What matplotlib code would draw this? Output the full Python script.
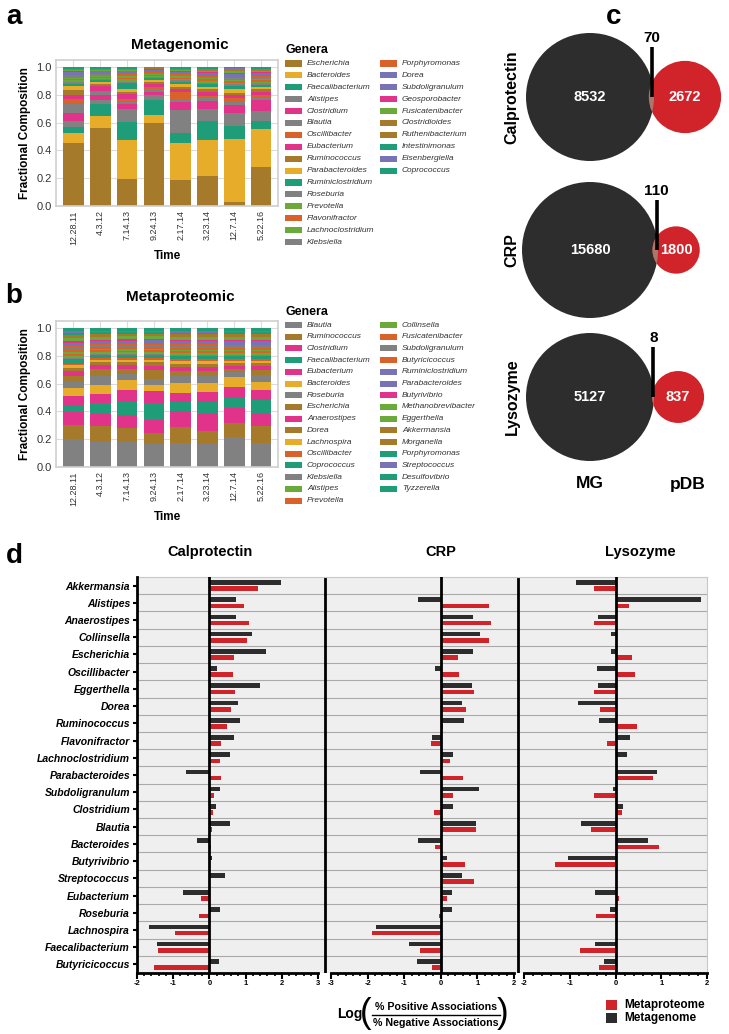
import numpy as np
import matplotlib.pyplot as plt
from matplotlib.patches import Rectangle, Circle
from matplotlib.lines import Line2D
from matplotlib.ticker import MultipleLocator

plt.rcParams['font.family'] = ['Liberation Sans', 'DejaVu Sans']
plt.rcParams['axes.unicode_minus'] = False

# ---------------- data: panel a (metagenomic fractional composition) ----------------
times = ["12.28.11", "4.3.12", "7.14.13", "9.24.13", "2.17.14", "3.23.14", "12.7.14", "5.22.16"]

mg_genera = ["Escherichia", "Bacteroides", "Faecalibacterium", "Alistipes", "Clostridium", "Blautia",
             "Oscillibacter", "Eubacterium", "Ruminococcus", "Parabacteroides", "Ruminiclostridium",
             "Roseburia", "Prevotella", "Flavonifractor", "Lachnoclostridium", "Klebsiella",
             "Porphyromonas", "Dorea", "Subdoligranulum", "Geosporobacter", "Fusicatenibacter",
             "Clostridioides", "Ruthenibacterium", "Intestinimonas", "Eisenbergiella", "Coprococcus"]

mg_12_28_11 = [0.453, 0.070, 0.043, 0.048, 0.056, 0.065, 0.036, 0.024, 0.041, 0.024, 0.020, 0.014, 0.010,
               0.012, 0.008, 0.010, 0.008, 0.010, 0.010, 0.008, 0.006, 0.006, 0.006, 0.004, 0.004, 0.004]
mg_4_3_12 = [0.559, 0.087, 0.084, 0.034, 0.031, 0.025, 0.010, 0.030, 0.020, 0.010, 0.014, 0.010, 0.008,
             0.008, 0.008, 0.008, 0.006, 0.008, 0.008, 0.006, 0.006, 0.004, 0.004, 0.004, 0.004, 0.004]
mg_7_14_13 = [0.193, 0.282, 0.127, 0.097, 0.031, 0.015, 0.025, 0.037, 0.015, 0.020, 0.040, 0.012, 0.020,
              0.010, 0.010, 0.010, 0.008, 0.008, 0.008, 0.006, 0.006, 0.004, 0.004, 0.004, 0.004, 0.004]
mg_9_24_13 = [0.595, 0.060, 0.109, 0.031, 0.024, 0.020, 0.015, 0.025, 0.015, 0.015, 0.010, 0.010, 0.006,
              0.006, 0.006, 0.008, 0.006, 0.008, 0.008, 0.005, 0.004, 0.004, 0.003, 0.003, 0.002, 0.002]
mg_2_17_14 = [0.186, 0.265, 0.072, 0.169, 0.055, 0.024, 0.048, 0.020, 0.020, 0.020, 0.015, 0.012, 0.008,
              0.010, 0.008, 0.008, 0.008, 0.008, 0.008, 0.006, 0.006, 0.006, 0.004, 0.004, 0.004, 0.006]
mg_3_23_14 = [0.217, 0.258, 0.139, 0.085, 0.055, 0.020, 0.020, 0.025, 0.020, 0.015, 0.020, 0.014, 0.010,
              0.012, 0.010, 0.010, 0.008, 0.010, 0.010, 0.008, 0.008, 0.006, 0.006, 0.004, 0.004, 0.006]
mg_12_7_14 = [0.029, 0.453, 0.091, 0.097, 0.055, 0.020, 0.030, 0.020, 0.020, 0.025, 0.020, 0.014, 0.012,
              0.012, 0.010, 0.010, 0.010, 0.012, 0.010, 0.010, 0.008, 0.008, 0.006, 0.006, 0.006, 0.006]
mg_5_22_16 = [0.284, 0.270, 0.060, 0.066, 0.080, 0.018, 0.022, 0.020, 0.020, 0.015, 0.015, 0.014, 0.010,
              0.012, 0.010, 0.010, 0.008, 0.012, 0.010, 0.010, 0.008, 0.008, 0.006, 0.004, 0.004, 0.004]

# ---------------- data: panel b (metaproteomic fractional composition) ----------------
mp_genera = ["Blautia", "Ruminococcus", "Clostridium", "Faecalibacterium", "Eubacterium", "Bacteroides",
             "Roseburia", "Escherichia", "Anaerostipes", "Dorea", "Lachnospira", "Oscillibacter",
             "Coprococcus", "Klebsiella", "Alistipes", "Prevotella", "Collinsella", "Fusicatenibacter",
             "Subdoligranulum", "Butyricicoccus", "Ruminiclostridium", "Parabacteroides", "Butyrivibrio",
             "Methanobrevibacter", "Eggerthella", "Akkermansia", "Morganella", "Porphyromonas",
             "Streptococcus", "Desulfovibrio", "Tyzzerella"]

mp_12_28_11 = [0.198, 0.103, 0.097, 0.041, 0.072, 0.055, 0.048, 0.041, 0.037, 0.022, 0.018, 0.012, 0.030, 0.012,
               0.014, 0.012, 0.014, 0.014, 0.014, 0.014, 0.012, 0.012, 0.012, 0.012, 0.012, 0.012, 0.012, 0.012,
               0.012, 0.010, 0.014]
mp_4_3_12 = [0.181, 0.115, 0.085, 0.077, 0.067, 0.065, 0.065, 0.049, 0.030, 0.020, 0.016, 0.012, 0.020, 0.012,
             0.012, 0.012, 0.012, 0.012, 0.012, 0.012, 0.010, 0.010, 0.010, 0.010, 0.010, 0.012, 0.010, 0.010,
             0.010, 0.010, 0.012]
mp_7_14_13 = [0.181, 0.101, 0.091, 0.104, 0.077, 0.073, 0.043, 0.034, 0.030, 0.020, 0.016, 0.012, 0.020, 0.012,
              0.012, 0.010, 0.012, 0.012, 0.012, 0.012, 0.012, 0.012, 0.012, 0.010, 0.010, 0.010, 0.010, 0.010,
              0.010, 0.010, 0.010]
mp_9_24_13 = [0.164, 0.084, 0.089, 0.126, 0.084, 0.043, 0.041, 0.068, 0.030, 0.025, 0.016, 0.014, 0.020, 0.012,
              0.012, 0.012, 0.012, 0.012, 0.012, 0.012, 0.012, 0.010, 0.010, 0.010, 0.010, 0.010, 0.010, 0.010,
              0.010, 0.010, 0.010]
mp_2_17_14 = [0.176, 0.113, 0.113, 0.063, 0.070, 0.072, 0.044, 0.036, 0.031, 0.025, 0.018, 0.014, 0.022, 0.012,
              0.012, 0.012, 0.012, 0.012, 0.012, 0.012, 0.012, 0.012, 0.010, 0.010, 0.010, 0.010, 0.010, 0.010,
              0.010, 0.010, 0.015]
mp_3_23_14 = [0.164, 0.096, 0.118, 0.087, 0.077, 0.060, 0.049, 0.036, 0.031, 0.025, 0.018, 0.014, 0.022, 0.012,
              0.012, 0.012, 0.012, 0.012, 0.012, 0.012, 0.012, 0.012, 0.010, 0.010, 0.010, 0.010, 0.010, 0.010,
              0.010, 0.010, 0.015]
mp_12_7_14 = [0.217, 0.096, 0.109, 0.079, 0.077, 0.068, 0.034, 0.024, 0.024, 0.020, 0.016, 0.012, 0.020, 0.012,
              0.012, 0.012, 0.012, 0.012, 0.012, 0.012, 0.012, 0.012, 0.012, 0.012, 0.010, 0.010, 0.010, 0.010,
              0.010, 0.010, 0.012]
mp_5_22_16 = [0.173, 0.121, 0.087, 0.101, 0.072, 0.060, 0.049, 0.036, 0.025, 0.022, 0.016, 0.014, 0.020, 0.012,
              0.012, 0.012, 0.012, 0.012, 0.012, 0.012, 0.012, 0.012, 0.012, 0.012, 0.010, 0.010, 0.010, 0.010,
              0.010, 0.010, 0.012]

# ---------------- data: panel c (venn counts) ----------------
venn_names = ["Calprotectin", "CRP", "Lysozyme"]
venn_mg_only = [8532, 15680, 5127]
venn_pdb_only = [2672, 1800, 837]
venn_shared = [70, 110, 8]

# ---------------- data: panel d (log ratio of associations) ----------------
d_genera = ["Akkermansia", "Alistipes", "Anaerostipes", "Collinsella", "Escherichia", "Oscillibacter",
            "Eggerthella", "Dorea", "Ruminococcus", "Flavonifractor", "Lachnoclostridium", "Parabacteroides",
            "Subdoligranulum", "Clostridium", "Blautia", "Bacteroides", "Butyrivibrio", "Streptococcus",
            "Eubacterium", "Roseburia", "Lachnospira", "Faecalibacterium", "Butyricicoccus"]
calpro_mg = [1.97, 0.74, 0.74, 1.17, 1.55, 0.20, 1.39, 0.78, 0.85, 0.67, 0.58, -0.64, 0.29, 0.18, 0.58, -0.34,
             0.07, 0.42, -0.72, 0.29, -1.68, -1.46, 0.26]
calpro_mp = [1.33, 0.96, 1.09, 1.04, 0.67, 0.65, 0.71, 0.59, 0.49, 0.31, 0.28, 0.31, 0.14, 0.09, 0.06, 0.05,
             0.0, 0.0, -0.22, -0.29, -0.94, -1.41, -1.52]
crp_mg = [0.0, -0.61, 0.87, 1.08, 0.87, -0.17, 0.85, 0.58, 0.64, -0.25, 0.32, -0.57, 1.05, 0.34, 0.97, -0.61,
          0.17, 0.57, 0.30, 0.31, -1.76, -0.87, -0.64]
crp_mp = [0.0, 1.31, 1.38, 1.31, 0.46, 0.51, 0.91, 0.69, 0.06, -0.27, 0.25, 0.62, 0.32, -0.19, 0.95, -0.15,
          0.66, 0.91, 0.18, -0.06, -1.89, -0.57, -0.25]
lyso_mg = [-0.87, 1.87, -0.39, -0.10, -0.10, -0.41, -0.39, -0.81, -0.37, 0.31, 0.25, 0.90, -0.05, 0.16, -0.76,
           0.71, -1.03, 0.0, -0.45, -0.12, 0.0, -0.44, -0.25]
lyso_mp = [-0.48, 0.30, -0.48, 0.0, 0.37, 0.42, -0.48, -0.33, 0.47, -0.18, 0.0, 0.82, -0.48, 0.15, -0.54, 0.95,
           -1.32, 0.0, 0.07, -0.43, 0.0, -0.78, -0.36]

# ---------------- styling ----------------
BROWN, YELLOW, TEAL, GREY = "#a67a2b", "#e6ac2a", "#1f9c78", "#818181"
PINK, ORANGE, LGREEN, PURPLE = "#e2338a", "#d9622b", "#6aa93a", "#7873b4"
mg_colors = [BROWN, YELLOW, TEAL, GREY, PINK, GREY, ORANGE, PINK, BROWN, YELLOW, TEAL, GREY, LGREEN,
             ORANGE, LGREEN, GREY, ORANGE, PURPLE, PURPLE, PINK, LGREEN, BROWN, BROWN, TEAL, PURPLE, TEAL]
mp_colors = [GREY, BROWN, PINK, TEAL, PINK, YELLOW, GREY, BROWN, PINK, BROWN, YELLOW, ORANGE, TEAL, GREY,
             LGREEN, ORANGE, LGREEN, ORANGE, GREY, ORANGE, PURPLE, PURPLE, PINK, LGREEN, LGREEN, BROWN,
             BROWN, TEAL, PURPLE, TEAL, TEAL]
RED, DARK = "#d1232a", "#2d2d2d"

W, H = 729, 1034
fig = plt.figure(figsize=(W / 100, H / 100), dpi=100)


def box(l, t, r, b):
    return [l / W, 1 - b / H, (r - l) / W, (b - t) / H]


def fx(x):
    return x / W


def fy(y):
    return 1 - y / H


def stacked_panel(rect, samples, colors, title, title_y):
    ax = fig.add_axes(rect)
    x = np.arange(len(times))
    bottoms = np.zeros(len(times))
    for g in range(len(colors)):
        vals = np.array([s[g] for s in samples])
        ax.bar(x, vals, bottom=bottoms, width=0.77, color=colors[g], edgecolor="none", zorder=2)
        bottoms += vals
    ax.set_xlim(-0.65, len(times) - 0.37)
    ax.set_ylim(0, 1.05)
    ax.set_yticks([0, 0.2, 0.4, 0.6, 0.8, 1.0])
    ax.set_yticklabels(["0.0", "0.2", "0.4", "0.6", "0.8", "1.0"], fontsize=8, color="#333333")
    ax.set_xticks(x)
    ax.set_xticklabels(times, rotation=90, fontsize=6.5, color="#333333")
    ax.tick_params(length=0, pad=3)
    ax.grid(True, color="#dcdcdc", lw=0.8, zorder=0)
    for sp in ax.spines.values():
        sp.set_color("#cfcfcf")
        sp.set_linewidth(1.2)
    ax.set_ylabel("Fractional Composition", fontweight="bold", fontsize=8.5, labelpad=4)
    ax.set_xlabel("Time", fontweight="bold", fontsize=8.5, labelpad=4)
    fig.text(fx(180), fy(title_y), title, fontweight="bold", fontsize=11, ha="center", va="center")
    return ax


def genera_legend(names, colors, n_first, title_y, first_y, step):
    fig.text(fx(285), fy(title_y), "Genera", fontweight="bold", fontsize=9, ha="left", va="center")
    for i, (name, c) in enumerate(zip(names, colors)):
        col, row = (0, i) if i < n_first else (1, i - n_first)
        x0 = 285 if col == 0 else 380
        y = first_y + row * step
        fig.add_artist(Rectangle((fx(x0), fy(y + 3)), 17 / W, 6 / H, transform=fig.transFigure,
                                 facecolor=c, edgecolor="none"))
        fig.text(fx(x0 + 22), fy(y), name, fontstyle="italic", fontsize=6, color="#333333",
                 ha="left", va="center")


# ---------------- panel a ----------------
mg_samples = [mg_12_28_11, mg_4_3_12, mg_7_14_13, mg_9_24_13, mg_2_17_14, mg_3_23_14, mg_12_7_14, mg_5_22_16]
stacked_panel(box(56, 60, 278, 206), mg_samples, mg_colors, "Metagenomic", 45)
genera_legend(mg_genera, mg_colors, 16, 50, 63.5, 11.9)

# ---------------- panel b ----------------
mp_samples = [mp_12_28_11, mp_4_3_12, mp_7_14_13, mp_9_24_13, mp_2_17_14, mp_3_23_14, mp_12_7_14, mp_5_22_16]
stacked_panel(box(56, 321, 278, 467), mp_samples, mp_colors, "Metaproteomic", 297)
genera_legend(mp_genera, mp_colors, 16, 312, 325, 11.7)

# ---------------- panel c ----------------
axc = fig.add_axes(box(500, 0, 729, 560))
axc.set_xlim(500, 729)
axc.set_ylim(560, 0)
axc.axis("off")


def lens_area(R, r, d):
    if d >= R + r:
        return 0.0
    a1 = R * R * np.arccos((d * d + R * R - r * r) / (2 * d * R))
    a2 = r * r * np.arccos((d * d + r * r - R * R) / (2 * d * r))
    a3 = 0.5 * np.sqrt((-d + R + r) * (d + R - r) * (d - R + r) * (d + R + r))
    return a1 + a2 - a3


venn_cy = [97, 250, 397]
venn_R = [64, 68, 64]
mg_cx = 590
for name, mg, pdb, sh, cy, R in zip(venn_names, venn_mg_only, venn_pdb_only, venn_shared, venn_cy, venn_R):
    r = R * np.sqrt((pdb + sh) / (mg + sh))
    target = np.pi * R * R * sh / (mg + sh)
    lo, hi = R - r + 1e-6, R + r
    for _ in range(60):
        mid = 0.5 * (lo + hi)
        if lens_area(R, r, mid) > target:
            lo = mid
        else:
            hi = mid
    d = 0.5 * (lo + hi)
    big = Circle((mg_cx, cy), R, facecolor=DARK, edgecolor="none")
    small = Circle((mg_cx + d, cy), r, facecolor=RED, edgecolor="none")
    axc.add_patch(big)
    axc.add_patch(small)
    lens = Circle((mg_cx + d, cy), r, facecolor="#a9786a", edgecolor="none")
    axc.add_patch(lens)
    lens.set_clip_path(big)
    xc = mg_cx + (d * d + R * R - r * r) / (2 * d)
    axc.add_line(Line2D([xc, xc], [cy, cy - 50], color="black", lw=2.6, solid_capstyle="butt"))
    axc.text(xc, cy - 59, f"{sh}", fontweight="bold", fontsize=11, ha="center", va="center")
    axc.text(mg_cx, cy, f"{mg}", color="white", fontweight="bold", fontsize=10.5, ha="center", va="center")
    axc.text(mg_cx + d, cy, f"{pdb}", color="white", fontweight="bold", fontsize=10.5, ha="center",
             va="center")
    axc.text(512, cy, name, rotation=90, fontweight="bold", fontsize=11.5, ha="center", va="center")
axc.text(mg_cx, 484, "MG", fontweight="bold", fontsize=12.5, ha="center", va="center")
axc.text(688, 484, "pDB", fontweight="bold", fontsize=12.5, ha="center", va="center")

# ---------------- panel d ----------------
top, bot = 577, 973
n = len(d_genera)
rows = np.arange(n)
bg = fig.add_axes(box(137, top, 707, bot))
bg.set_facecolor("#efefef")
bg.set_xlim(137, 707)
bg.set_ylim(n - 0.5, -0.5)
bg.set_xticks([])
bg.set_yticks([])
for k in range(n - 1):
    bg.axhline(k + 0.5, color="#a9a9a9", lw=0.8)
for xdiv in (325, 518):
    bg.axvline(xdiv, color="black", lw=2)
for side in ("left", "bottom"):
    bg.spines[side].set_visible(False)
for side in ("top", "right"):
    bg.spines[side].set_color("#c8c8c8")

d_specs = [
    (137, 318, (-2, 3), calpro_mg, calpro_mp, "Calprotectin", 210),
    (331, 514, (-3, 2), crp_mg, crp_mp, "CRP", 441),
    (524, 707, (-2, 2), lyso_mg, lyso_mp, "Lysozyme", 640),
]
for i, (l, r_, lim, mgv, mpv, title, tx) in enumerate(d_specs):
    ax = fig.add_axes(box(l, top, r_, bot))
    ax.patch.set_alpha(0)
    ax.barh(rows - 0.18, mgv, height=0.27, color=DARK, zorder=3)
    ax.barh(rows + 0.18, mpv, height=0.27, color=RED, zorder=3)
    ax.axvline(0, color="black", lw=2, zorder=4)
    ax.set_xlim(*lim)
    ax.set_ylim(n - 0.5, -0.5)
    ax.xaxis.set_major_locator(MultipleLocator(1))
    ax.xaxis.set_minor_locator(MultipleLocator(0.2))
    ax.tick_params(axis="x", which="major", length=4, width=1.5, pad=1, labelsize=5.5)
    ax.tick_params(axis="x", which="minor", length=2.5, width=1.2)
    for lab in ax.get_xticklabels():
        lab.set_fontweight("bold")
    ax.spines["top"].set_visible(False)
    ax.spines["right"].set_visible(False)
    ax.spines["bottom"].set_linewidth(2)
    if i == 0:
        ax.spines["left"].set_linewidth(2)
        ax.set_yticks(rows)
        ax.set_yticklabels(d_genera, fontstyle="italic", fontweight="bold", fontsize=7.5)
        ax.tick_params(axis="y", length=3, width=1.5, pad=2)
    else:
        ax.spines["left"].set_visible(False)
        ax.set_yticks([])
    fig.text(fx(tx), fy(552), title, fontweight="bold", fontsize=10.5, ha="center", va="center")

# x label built from pieces: Log( fraction )
fig.text(fx(350), fy(1014), "Log", fontweight="bold", fontsize=10, ha="center", va="center")
fig.text(fx(366), fy(1013), "(", fontsize=25, ha="center", va="center")
fig.text(fx(503), fy(1013), ")", fontsize=25, ha="center", va="center")
fig.text(fx(436), fy(1007), "% Positive Associations", fontweight="bold", fontsize=7.7, ha="center",
         va="center")
fig.text(fx(436), fy(1023), "% Negative Associations", fontweight="bold", fontsize=7.7, ha="center",
         va="center")
fig.add_artist(Line2D([fx(372), fx(500)], [fy(1015), fy(1015)], transform=fig.transFigure, color="black",
                      lw=1))

# legend for panel d
for lab, c, y in (("Metaproteome", RED, 1005), ("Metagenome", DARK, 1018)):
    fig.add_artist(Rectangle((fx(606), fy(y + 5)), 11 / W, 10 / H, transform=fig.transFigure,
                             facecolor=c, edgecolor="none"))
    fig.text(fx(624), fy(y), lab, fontweight="bold", fontsize=8.5, ha="left", va="center")

# panel letters
for letter, x, y in (("a", 14, 17), ("b", 14, 296), ("c", 614, 17), ("d", 14, 556)):
    fig.text(fx(x), fy(y), letter, fontweight="bold", fontsize=20, ha="center", va="center")

fig.savefig("out.png", dpi=100)
